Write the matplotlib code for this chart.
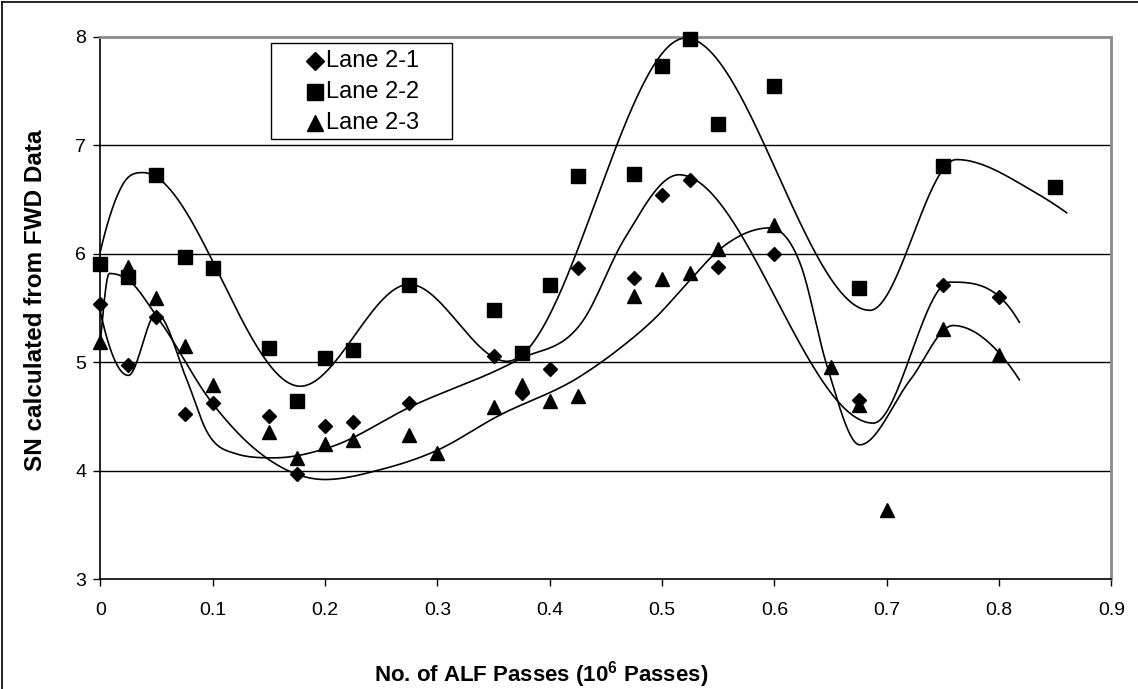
import numpy as np
import matplotlib
matplotlib.use("Agg")
import matplotlib.pyplot as plt
from matplotlib.lines import Line2D
from matplotlib.patches import Rectangle

plt.rcParams['font.family'] = ['Liberation Sans', 'DejaVu Sans']

# ---- measured structural numbers (SN) from FWD data ----
lane21_x = [0, 0.025, 0.05, 0.075, 0.1, 0.15, 0.175, 0.2, 0.225, 0.275, 0.35, 0.375,
            0.4, 0.425, 0.475, 0.5, 0.525, 0.55, 0.6, 0.675, 0.75, 0.8]
lane21_y = [5.54, 4.98, 5.42, 4.52, 4.63, 4.51, 3.97, 4.41, 4.45, 4.63, 5.06, 4.72,
            4.94, 5.87, 5.78, 6.54, 6.68, 5.88, 6.00, 4.65, 5.71, 5.60]

lane22_x = [0, 0.025, 0.05, 0.075, 0.1, 0.15, 0.175, 0.2, 0.225, 0.275, 0.35, 0.375,
            0.4, 0.425, 0.475, 0.5, 0.525, 0.55, 0.6, 0.675, 0.75, 0.85]
lane22_y = [5.91, 5.79, 6.73, 5.97, 5.87, 5.13, 4.64, 5.04, 5.11, 5.71, 5.48, 5.09,
            5.71, 6.72, 6.74, 7.73, 7.98, 7.20, 7.55, 5.69, 6.81, 6.62]

lane23_x = [0, 0.025, 0.05, 0.075, 0.1, 0.15, 0.175, 0.2, 0.225, 0.275, 0.3, 0.35,
            0.375, 0.4, 0.425, 0.475, 0.5, 0.525, 0.55, 0.6, 0.65, 0.675, 0.7, 0.75, 0.8]
lane23_y = [5.19, 5.88, 5.59, 5.15, 4.79, 4.36, 4.12, 4.25, 4.28, 4.33, 4.16, 4.59,
            4.79, 4.64, 4.69, 5.61, 5.77, 5.82, 6.05, 6.27, 4.96, 4.61, 3.64, 5.31, 5.07]

lane_names = ['Lane 2-1', 'Lane 2-2', 'Lane 2-3']

# ---- smoothed trend curves (knots of each fitted curve) ----
trend21_x = [0.0, 0.025, 0.05, 0.077, 0.095, 0.12, 0.155, 0.205, 0.276, 0.371, 0.43,
             0.466, 0.515, 0.688, 0.756, 0.818]
trend21_y = [5.47, 4.88, 5.45, 4.84, 4.36, 4.16, 4.12, 4.22, 4.59, 5.02, 5.39,
             6.13, 6.73, 4.44, 5.74, 5.37]

trend22_x = [0.0, 0.02, 0.038, 0.178, 0.275, 0.362, 0.521, 0.685, 0.762, 0.83, 0.86]
trend22_y = [6.02, 6.64, 6.75, 4.78, 5.72, 5.01, 7.99, 5.48, 6.87, 6.58, 6.38]

trend23_x = [0.0, 0.008, 0.025, 0.05, 0.1, 0.139, 0.2, 0.249, 0.3, 0.353, 0.427, 0.46,
             0.495, 0.525, 0.551, 0.596, 0.623, 0.647, 0.676, 0.721, 0.759, 0.798, 0.818]
trend23_y = [5.18, 5.82, 5.76, 5.43, 4.62, 4.19, 3.92, 4.01, 4.19, 4.50, 4.87, 5.11,
             5.42, 5.76, 6.04, 6.24, 5.91, 4.96, 4.24, 4.84, 5.34, 5.11, 4.84]

x_ticks = [0, 0.1, 0.2, 0.3, 0.4, 0.5, 0.6, 0.7, 0.8, 0.9]
x_tick_labels = ['0', '0.1', '0.2', '0.3', '0.4', '0.5', '0.6', '0.7', '0.8', '0.9']
y_ticks = [3, 4, 5, 6, 7, 8]


def smooth_curve(xk, yk, xs):
    """Piecewise cubic Hermite through the knots; parabolic slopes, flat at
    local extrema and limited so that monotone stretches stay monotone."""
    xk = np.asarray(xk, float)
    yk = np.asarray(yk, float)
    h = np.diff(xk)
    d = np.diff(yk) / h
    n = len(xk)
    m = np.zeros(n)
    for k in range(1, n - 1):
        if d[k - 1] * d[k] > 0:
            s = (h[k] * d[k - 1] + h[k - 1] * d[k]) / (h[k - 1] + h[k])
            lim = 3 * min(abs(d[k - 1]), abs(d[k]))
            m[k] = np.sign(s) * min(abs(s), lim)

    def end_slope(h0, h1, d0, d1):
        s = ((2 * h0 + h1) * d0 - h0 * d1) / (h0 + h1)
        if np.sign(s) != np.sign(d0):
            return 0.0
        if abs(s) > abs(3 * d0):
            return 3 * d0
        return s

    m[0] = end_slope(h[0], h[1], d[0], d[1])
    m[-1] = end_slope(h[-1], h[-2], d[-1], d[-2])

    xs = np.asarray(xs, float)
    idx = np.clip(np.searchsorted(xk, xs) - 1, 0, n - 2)
    t = (xs - xk[idx]) / h[idx]
    h00 = 2 * t**3 - 3 * t**2 + 1
    h10 = t**3 - 2 * t**2 + t
    h01 = -2 * t**3 + 3 * t**2
    h11 = t**3 - t**2
    return (h00 * yk[idx] + h10 * h[idx] * m[idx]
            + h01 * yk[idx + 1] + h11 * h[idx] * m[idx + 1])


fig = plt.figure(figsize=(11.38, 6.89), dpi=100)
ax = fig.add_axes([0.0881, 0.1592, 0.8886, 0.7871])

# smoothed trend curves
for tx, ty in [(trend21_x, trend21_y), (trend22_x, trend22_y), (trend23_x, trend23_y)]:
    xs = np.linspace(tx[0], tx[-1], 800)
    ax.plot(xs, smooth_curve(tx, ty, xs), color='black', lw=1.2, zorder=3,
            clip_on=False)

# measured points
marker_styles = [('D', 7.4), ('s', 10.5), ('^', 10.5)]
series = [(lane21_x, lane21_y), (lane22_x, lane22_y), (lane23_x, lane23_y)]
for (sx, sy), (mk, ms) in zip(series, marker_styles):
    ax.plot(sx, sy, linestyle='none', marker=mk, ms=ms, color='black',
            zorder=4, clip_on=False)

ax.set_xlim(0, 0.9)
ax.set_ylim(3, 8)
ax.set_xticks(x_ticks)
ax.set_xticklabels(x_tick_labels)
ax.set_yticks(y_ticks)
ax.tick_params(axis='both', direction='out', length=5, width=1, labelsize=14,
               colors='black')
ax.tick_params(axis='x', pad=11)
ax.tick_params(axis='y', pad=5)

for yv in [4, 5, 6, 7]:
    ax.axhline(yv, color='black', lw=1.0, zorder=1)

ax.spines['top'].set_color('#8c8c8c')
ax.spines['right'].set_color('#8c8c8c')
ax.spines['top'].set_linewidth(2)
ax.spines['right'].set_linewidth(2)
ax.spines['left'].set_color('black')
ax.spines['bottom'].set_color('black')
ax.spines['left'].set_linewidth(1.2)
ax.spines['bottom'].set_linewidth(1.2)

ax.set_xlabel('No. of ALF Passes (10$^{\\mathregular{6}}$ Passes)', fontsize=16,
              fontweight='bold')
ax.xaxis.set_label_coords(0.436, -0.148)
ax.set_ylabel('SN calculated from FWD Data', fontsize=17.5, fontweight='bold')
ax.yaxis.set_label_coords(-0.053, 0.515)

# legend box with marker samples
ax.add_patch(Rectangle((0.1688, 0.812), 0.179, 0.177, transform=ax.transAxes,
                       facecolor='white', edgecolor='black', lw=1.0, zorder=6,
                       clip_on=False))
legend_rows = [0.9557, 0.8989, 0.8414]
legend_ms = [9.5, 11, 11]
for name, (mk, _), ms, ry in zip(lane_names, marker_styles, legend_ms, legend_rows):
    ax.plot([0.2123], [ry], transform=ax.transAxes, marker=mk, ms=ms,
            color='black', linestyle='none', zorder=7, clip_on=False)
    ax.text(0.2232, ry, name, transform=ax.transAxes, fontsize=17, va='center',
            ha='left', zorder=7)

# outer chart frame (left and top edges)
fig.add_artist(Line2D([0.0015, 0.0015], [0, 0.997], transform=fig.transFigure,
                      color='black', lw=1.2))
fig.add_artist(Line2D([0.0015, 1.0], [0.997, 0.997], transform=fig.transFigure,
                      color='black', lw=1.2))

fig.savefig('out.png', dpi=100)
